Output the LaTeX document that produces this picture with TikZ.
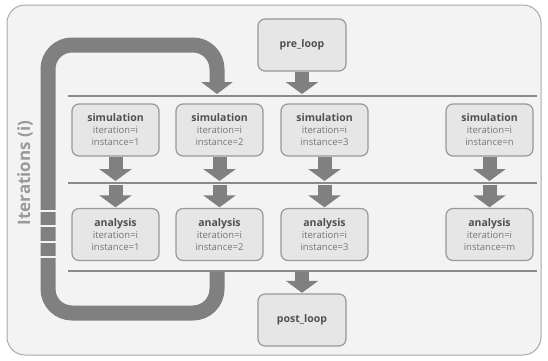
\documentclass[tikz,border=0pt]{standalone}
\usepackage{fontspec}
\setmainfont{Open Sans}
\usetikzlibrary{arrows.meta}
\definecolor{bgc}{HTML}{F3F3F3}
\definecolor{framec}{HTML}{AAAAAA}
\definecolor{boxfill}{HTML}{E6E6E6}
\definecolor{boxline}{HTML}{999999}
\definecolor{arr}{HTML}{808080}
\definecolor{linec}{HTML}{8A8A8A}
\definecolor{txtb}{HTML}{505050}
\definecolor{txtr}{HTML}{777777}
\definecolor{sidec}{HTML}{9A9A9A}
\tikzset{
  box/.style={draw=boxline, fill=boxfill, line width=1.2pt, rounded corners=7pt,
    minimum width=87pt, minimum height=52pt, align=center, inner sep=0pt,
    text=txtr, font=\fontsize{9.5}{12}\selectfont},
  endbox/.style={box, minimum width=88pt},
  blockarrow/.style={draw=arr, line width=14pt, -{Triangle[width=32pt,length=12pt]}},
  band/.style={draw=arr, line width=15pt, rounded corners=24pt, -{Triangle[width=31pt,length=12pt]}},
  hline/.style={draw=linec, line width=2pt},
}
\newcommand{\bt}[1]{{\color{txtb}\fontsize{10.5}{12}\selectfont\bfseries #1}}
\begin{document}
\begin{tikzpicture}[x=1pt,y=-1pt]
\useasboundingbox (0,0) rectangle (548,360);
\fill[white] (0,0) rectangle (548,360);
\draw[framec, fill=bgc, line width=1pt, rounded corners=18pt] (7,5) rectangle (541,355);

% horizontal lines
\coordinate (l1w) at (68,96);  \coordinate (l1e) at (537,96);
\coordinate (l2w) at (68,183); \coordinate (l2e) at (537,183);
\coordinate (l3w) at (68,271); \coordinate (l3e) at (537,271);
\draw[hline] (l1w) -- (l1e);
\draw[hline] (l2w) -- (l2e);
\draw[hline] (l3w) -- (l3e);

% loop band
\coordinate (loopstart) at (217,272);
\coordinate (loopend) at (217,94);
\draw[band] (loopstart) -- (217,313) -- (48,313) -- (48,45) -- (217,45) -- (loopend);
\foreach \y in {211,226,242,257} \fill[bgc] (40,\y-1) rectangle (57,\y+1);

\node[rotate=90, text=sidec, font=\fontsize{17}{20}\selectfont\bfseries] (iter) at (25,173) {Iterations (i)};

% nodes
\node[endbox] (pre) at (302,45) {\bt{pre\_loop}};
\node[endbox] (post) at (302,320) {\bt{post\_loop}};

\node[box] (s1) at (115.5,130) {\bt{simulation}\\iteration=i\\instance=1};
\node[box] (s2) at (219.5,130) {\bt{simulation}\\iteration=i\\instance=2};
\node[box] (s3) at (324.5,130) {\bt{simulation}\\iteration=i\\instance=3};
\node[box] (s4) at (489.5,130) {\bt{simulation}\\iteration=i\\instance=n};

\node[box] (a1) at (115.5,234.5) {\bt{analysis}\\iteration=i\\instance=1};
\node[box] (a2) at (219.5,234.5) {\bt{analysis}\\iteration=i\\instance=2};
\node[box] (a3) at (324.5,234.5) {\bt{analysis}\\iteration=i\\instance=3};
\node[box] (a4) at (489.5,234.5) {\bt{analysis}\\iteration=i\\instance=m};

% coordinates on lines
\coordinate (t1) at (0,94);
\coordinate (t2a) at (0,181);
\coordinate (t2b) at (0,184.5);
\coordinate (t3) at (0,272);

\draw[blockarrow] ([yshift=-0.6pt]pre.south) -- (pre.south |- t1);
\foreach \i in {1,2,3,4}{
  \draw[blockarrow] ([yshift=-0.6pt]s\i.south) -- (s\i.south |- t2a);
  \draw[blockarrow] (a\i.north |- t2b) -- ([yshift=0.6pt]a\i.north);
}
\draw[blockarrow] (post.north |- t3) -- ([yshift=0.6pt]post.north);
\end{tikzpicture}
\end{document}
